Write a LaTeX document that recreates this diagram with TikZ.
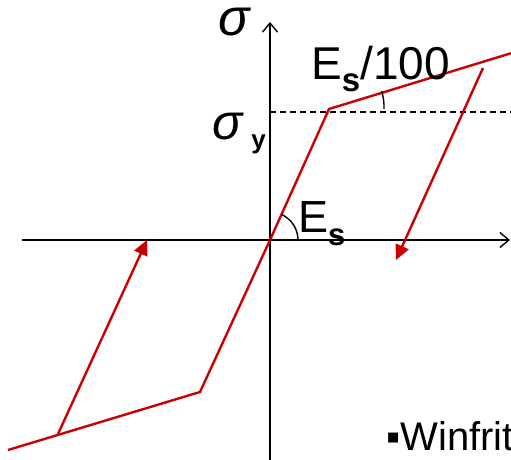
\documentclass[tikz,border=0pt]{standalone}
\usepackage{fontspec}
\setmainfont{Liberation Sans}
\usetikzlibrary{arrows.meta}

\begin{document}
\begin{tikzpicture}[x=1pt, y=1pt,
    axis/.style={line width=1.4pt, -{Straight Barb[length=9pt, width=15pt]}},
    branch/.style={draw=red!80!black, line width=2.4pt},
    path/.style={branch, -{Triangle[length=15pt, width=14pt]}},
    lbl/.style={anchor=base west, inner sep=0pt, font=\fontsize{46}{50}\selectfont}
]
    \useasboundingbox (0,0) rectangle (511,460);

    % axes
    \coordinate (O) at (270,220);
    \coordinate (xl) at (22,220);
    \coordinate (xr) at (510,220);
    \coordinate (yb) at (270,-2);
    \coordinate (yt) at (270,438);
    \draw[axis] (xl) -- (xr);
    \draw[axis] (yb) -- (yt);

    % skeleton points
    \coordinate (yld) at (329,351);
    \coordinate (hard) at (515,408);
    \coordinate (unl) at (483,392);
    \coordinate (tipu) at (396,200);
    \coordinate (nyld) at (200,68);
    \coordinate (nhard) at (8,10);
    \coordinate (rel) at (58,26);
    \coordinate (tipr) at (147,220);
    \coordinate (dl) at (270,348);
    \coordinate (dr) at (511,348);

    \draw[dashed, line width=1.3pt, dash pattern=on 6pt off 4pt] (dl) -- (dr);

    \draw[branch] (nhard) -- (nyld) -- (O) -- (yld) -- (hard);
    \draw[path] (unl) -- (tipu);
    \draw[path] (rel) -- (tipr);

    % slope arcs
    \draw[line width=1.4pt] ([shift={(0:28)}]O) arc[start angle=0, end angle=66, radius=28];
    \draw[line width=1.4pt] ([shift={(0:55)}]yld) arc[start angle=-2, end angle=17, radius=55];

    % labels
    \node[lbl, font=\fontsize{52}{56}\selectfont\itshape] (sig) at (218,424) {σ};
    \node[lbl, font=\fontsize{50}{54}\selectfont\itshape] (sigy) at (212,320)
        {σ\hspace{9pt}\raisebox{-9pt}{\fontsize{26}{26}\selectfont\upshape\bfseries y}};
    \node[lbl] (es100) at (311,380)
        {E\raisebox{-12pt}{\fontsize{33}{33}\selectfont\bfseries s}/100};
    \node[lbl, font=\fontsize{45}{50}\selectfont] (es) at (298,227)
        {E\raisebox{-13pt}{\fontsize{31}{31}\selectfont\bfseries s}};
    \node[lbl, font=\fontsize{40}{44}\selectfont] (src) at (386,9) {▪Winfrit};
\end{tikzpicture}
\end{document}
